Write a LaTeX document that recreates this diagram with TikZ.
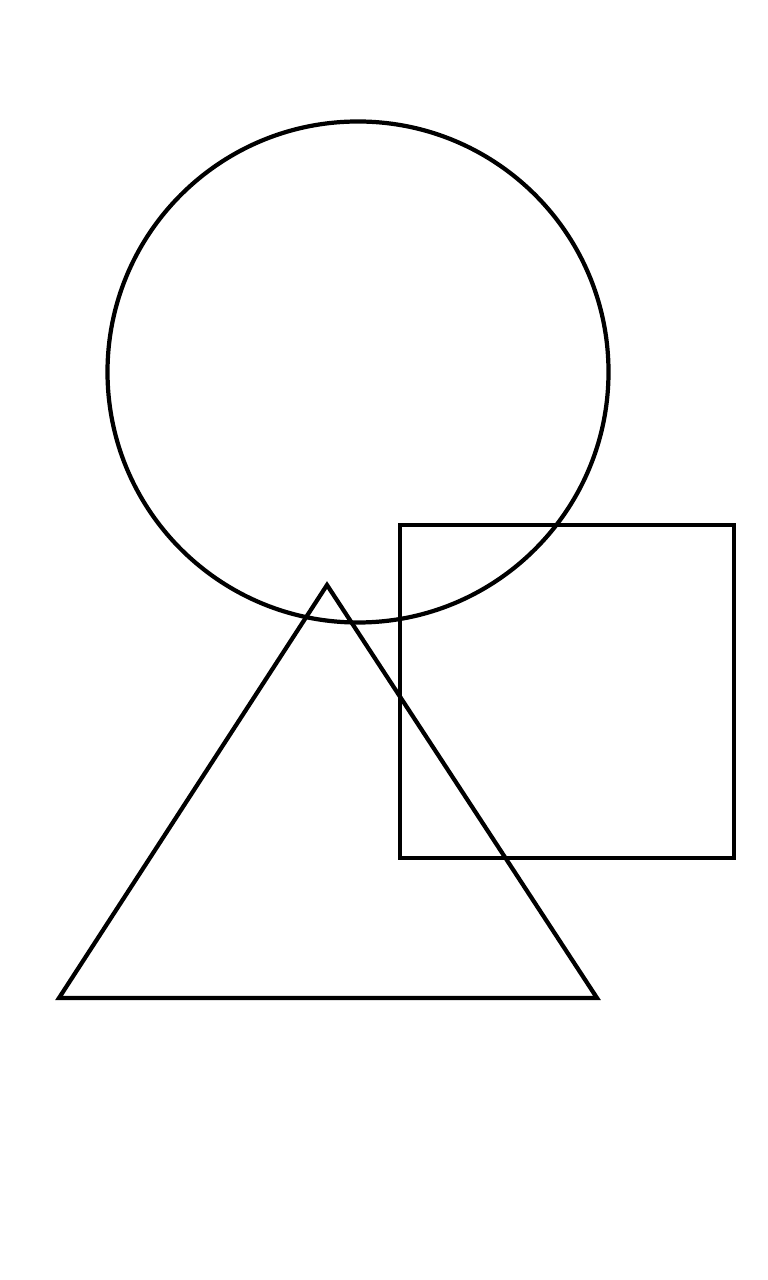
\documentclass[tikz,border=0pt]{standalone}
\begin{document}
\begin{tikzpicture}[x=0.01cm,y=-0.01cm,outline/.style={draw=black,line width=1.2pt,line join=miter}]
\useasboundingbox (0,0) rectangle (768,1280);
\draw[outline] (358,372) circle[radius=250.5];
\draw[outline] (400,525) rectangle (734,858);
\draw[outline] (327,585) -- (597,998) -- (59,998) -- cycle;
\end{tikzpicture}
\end{document}
